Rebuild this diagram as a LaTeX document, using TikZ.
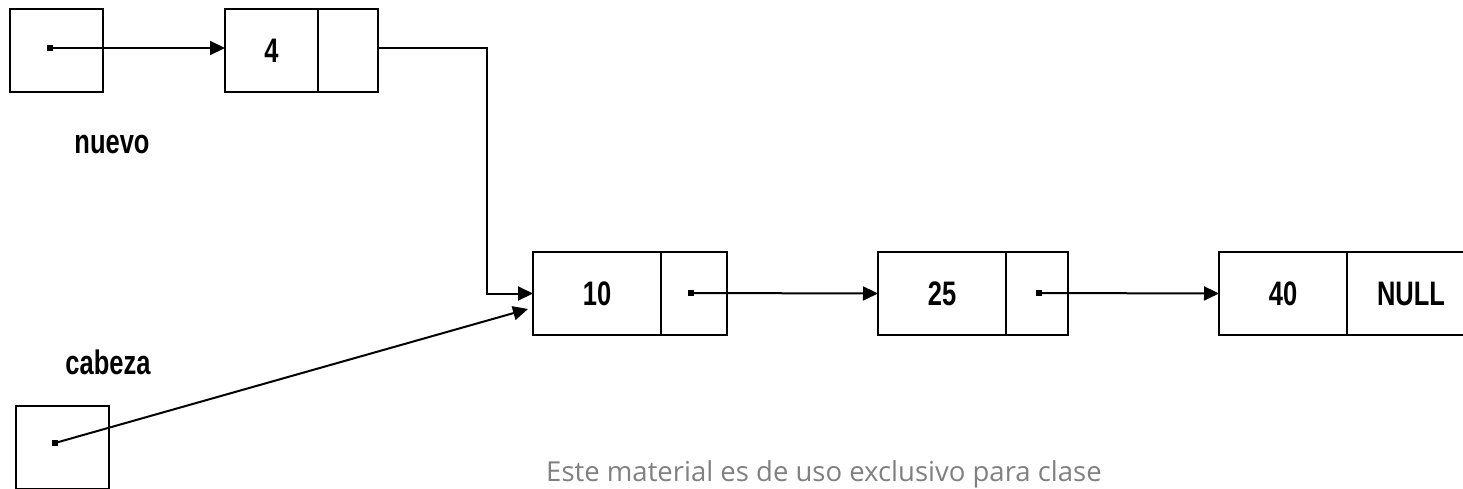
\documentclass[tikz,border=0pt]{standalone}
\usepackage{fontspec}
\usepackage{tikz}
\usetikzlibrary{arrows.meta, positioning}
\newfontfamily\cellfont{Liberation Sans}[FakeStretch=0.75]
\newfontfamily\notefont{Open Sans}
\definecolor{notegray}{RGB}{128,128,128}
\tikzset{
  basecell/.style={
    rectangle, draw=black, line width=1pt, outer sep=0pt, inner sep=0pt,
    minimum height=41.5pt, font=\cellfont\bfseries\fontsize{17}{19}\selectfont
  },
  ptrbox/.style={basecell, minimum width=46.5pt},
  databox/.style={basecell, minimum width=64pt},
  nextbox/.style={basecell, minimum width=32pt},
  dotmark/.style={rectangle, fill=black, inner sep=0pt, minimum size=2.6pt},
  namelabel/.style={anchor=base, font=\cellfont\bfseries\fontsize{17}{19}\selectfont},
  arrow/.style={-{Triangle[length=7.5pt,width=7pt]}, line width=1pt, color=black}
}

\begin{document}
\begin{tikzpicture}[x=0.5pt, y=-0.5pt]
  \useasboundingbox (0,0) rectangle (1463,488);

  % puntero nuevo y su nodo
  \node[ptrbox] (nuevo) at (56.5,50.5) {};
  \node[basecell, minimum width=46.5pt] (n4) at (271.5,50.5) {4};
  \node[basecell, minimum width=30pt, right=0pt of n4] (n4p) {};
  \node[namelabel] (lnuevo) at (112,153) {nuevo};

  % lista
  \node[databox] (n10) at (597,293.5) {10};
  \node[nextbox, minimum width=33pt, right=0pt of n10] (n10p) {};
  \node[databox] (n25) at (942,293.5) {25};
  \node[nextbox, minimum width=31pt, right=0pt of n25] (n25p) {};
  \node[databox] (n40) at (1283,293.5) {40};
  \node[databox, right=0pt of n40] (n40p) {NULL};

  % puntero cabeza
  \node[namelabel] (lcabeza) at (108,374) {cabeza};
  \node[ptrbox] (cabeza) at (62.5,447.5) {};

  % punteros
  \node[dotmark] (dnuevo) at (50,48) {};
  \node[dotmark] (d10) at (691,293) {};
  \node[dotmark] (d25) at (1039,293) {};
  \node[dotmark] (dcabeza) at (55,443) {};
  \coordinate (bend) at (487,293.5);
  \coordinate (hit) at (528,309);

  \draw[arrow] (dnuevo.center) -- (dnuevo -| n4.west);
  \draw[arrow] (n4p.east |- dnuevo) -| (bend) -- (n10.west);
  \draw[arrow] (d10.center) -- (n25.west);
  \draw[arrow] (d25.center) -- (n40.west);
  \draw[arrow] (dcabeza.center) -- (hit);

  \node[font=\notefont\fontsize{13.75}{15}\selectfont, text=notegray, anchor=base] (nota)
        at (824,481) {Este material es de uso exclusivo para clase};
\end{tikzpicture}
\end{document}
